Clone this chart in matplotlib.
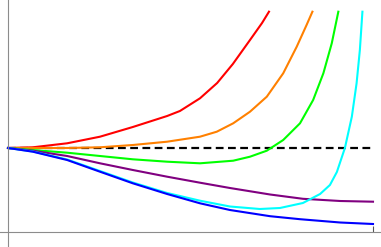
import matplotlib
matplotlib.use('Agg')
import matplotlib.pyplot as plt

# curve values (x from 0 to 10, baseline at y = 0)
red_x = [0, 0.68, 1.62, 2.52, 3.42, 4.36, 4.71, 5.26, 5.73, 6.16, 6.63, 6.96, 7.15]
red_y = [0, 0.07, 0.47, 1.13, 2.1, 3.2, 3.7, 4.97, 6.5, 8.4, 10.8, 12.5, 13.63]

orange_x = [0, 1.62, 2.52, 3.42, 4.36, 5.26, 5.72, 6.17, 6.63, 7.09, 7.54, 7.91, 8.18, 8.34]
orange_y = [0, 0.0, 0.07, 0.3, 0.63, 1.13, 1.63, 2.47, 3.63, 5.13, 7.47, 10.13, 12.3, 13.63]

green_x = [0, 0.68, 1.62, 2.52, 3.42, 4.36, 5.26, 6.17, 6.63, 7.09, 7.54, 8.0, 8.36,
           8.64, 8.87, 9.05]
green_y = [0, -0.2, -0.47, -0.8, -1.13, -1.37, -1.53, -1.27, -0.87, -0.27, 0.8, 2.47, 4.8,
           7.47, 10.47, 13.63]

purple_x = [0, 0.68, 1.62, 2.52, 3.42, 4.36, 5.26, 6.08, 7.18, 8.08, 9.10, 10.0]
purple_y = [0, -0.27, -0.8, -1.53, -2.2, -2.87, -3.47, -4.0, -4.65, -5.08, -5.3, -5.37]

blue_x = [0, 0.68, 1.62, 2.52, 3.42, 4.36, 5.26, 6.08, 7.18, 8.0, 9.10, 10.0]
blue_y = [0, -0.37, -1.2, -2.37, -3.53, -4.6, -5.53, -6.2, -6.82, -7.12, -7.45, -7.6]

cyan_x = [0, 0.68, 1.62, 2.52, 3.42, 4.36, 5.26, 6.08, 6.90, 7.45, 8.08, 8.55, 8.82,
          9.01, 9.23, 9.42, 9.55, 9.64, 9.71]
cyan_y = [0, -0.35, -1.15, -2.3, -3.45, -4.5, -5.27, -5.85, -6.1, -6.0, -5.5, -4.6, -3.7,
          -2.4, 0.0, 3.13, 6.47, 9.8, 13.63]

base_x = [0, 10]
base_y = [0, 0]

fig = plt.figure(figsize=(3.81, 2.47), dpi=100)
ax = fig.add_axes([0, 0, 1, 1])

ax.plot(base_x, base_y, color='black', lw=1.6, ls=(0, (3.5, 2)), zorder=1)
ax.plot(red_x, red_y, color='#ff0000', lw=1.5)
ax.plot(orange_x, orange_y, color='#ff8000', lw=1.5)
ax.plot(green_x, green_y, color='#00ff00', lw=1.5)
ax.plot(purple_x, purple_y, color='#800080', lw=1.5)
ax.plot(cyan_x, cyan_y, color='#00ffff', lw=1.5)
ax.plot(blue_x, blue_y, color='#0000ff', lw=1.5)

ax.set_xlim(-0.219, 10.219)
ax.set_ylim(-9.9, 14.8)

for s in ['top', 'right']:
    ax.spines[s].set_visible(False)
ax.spines['left'].set_position(('data', 0))
ax.spines['bottom'].set_position(('data', -8.4))
ax.spines['left'].set_color('#8c8c8c')
ax.spines['bottom'].set_color('#8c8c8c')
ax.set_xticks([10])
ax.set_xticklabels([])
ax.set_yticks([])
ax.tick_params(axis='x', direction='in', length=4, color='#555555', width=0.8)

fig.savefig('out.png', dpi=100)
